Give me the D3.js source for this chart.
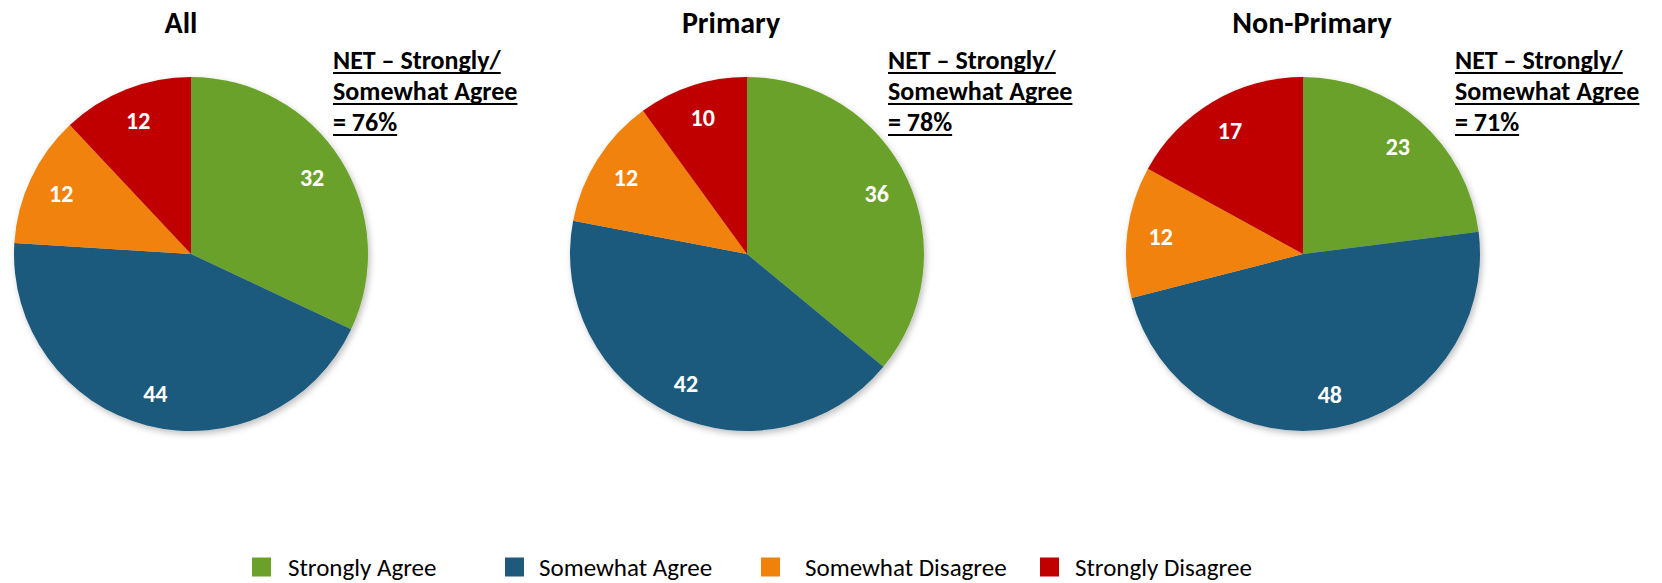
<!DOCTYPE html>
<html>
<head>
<meta charset="utf-8">
<script src="https://cdn.jsdelivr.net/npm/d3@7"></script>
<style>
  body { margin: 0; background: #fff; }
  svg { display: block; font-family: Carlito, Calibri, Lato, sans-serif; }
</style>
</head>
<body>
<div id="chart"></div>
<script>
// DATA
var categories = ["Strongly Agree", "Somewhat Agree", "Somewhat Disagree", "Strongly Disagree"];
var groups = ["All", "Primary", "Non-Primary"];
var allValues = [32, 44, 12, 12];
var primaryValues = [36, 42, 12, 10];
var nonPrimaryValues = [23, 48, 12, 17];
var netValues = ["76%", "78%", "71%"];
var colors = ["#6BA12A", "#1F5A7D", "#F0820A", "#C00000"];

var width = 1662, height = 583;
var radius = 177;
var pieCx = [191, 747, 1303];
var pieCy = 254;
var titleX = [181, 731, 1312];
var netX = [333, 888, 1455];

var svg = d3.select('#chart').append('svg')
  .attr('width', width)
  .attr('height', height);

var defs = svg.append('defs');
defs.append('filter').attr('id', 'shadow')
  .attr('x', '-10%').attr('y', '-10%').attr('width', '125%').attr('height', '125%')
  .append('feDropShadow')
  .attr('dx', 2).attr('dy', 3).attr('stdDeviation', 3)
  .attr('flood-color', '#000').attr('flood-opacity', 0.25);

var pie = d3.pie().sort(null).value((d) => d);
var arc = d3.arc().innerRadius(0).outerRadius(radius);
var labelArc = d3.arc().innerRadius(radius * 0.81).outerRadius(radius * 0.81);

var series = [allValues, primaryValues, nonPrimaryValues];

series.forEach(function (vals, i) {
  var g = svg.append('g').attr('transform', 'translate(' + pieCx[i] + ',' + pieCy + ')');
  var arcs = pie(vals);

  g.append('g').attr('filter', 'url(#shadow)')
    .selectAll('path')
    .data(arcs)
    .enter()
    .append('path')
    .attr('d', arc)
    .attr('fill', (d, j) => colors[j]);

  g.selectAll('text.val')
    .data(arcs)
    .enter()
    .append('text')
    .attr('class', 'val')
    .attr('transform', (d) => 'translate(' + labelArc.centroid(d) + ')')
    .attr('text-anchor', 'middle')
    .attr('dy', '0.36em')
    .attr('fill', '#fff')
    .attr('font-weight', 'bold')
    .attr('font-size', 24)
    .text((d) => d.data);

  // title
  svg.append('text')
    .attr('x', titleX[i])
    .attr('y', 33)
    .attr('text-anchor', 'middle')
    .attr('font-weight', 'bold')
    .attr('font-size', 30)
    .attr('fill', '#000')
    .text(groups[i]);

  // NET annotation
  var lines = ['NET \u2013 Strongly/', 'Somewhat Agree', '= ' + netValues[i]];
  lines.forEach(function (t, k) {
    var y = 69 + k * 31;
    var txt = svg.append('text')
      .attr('x', netX[i])
      .attr('y', y)
      .attr('font-weight', 'bold')
      .attr('font-size', 26)
      .attr('fill', '#000')
      .text(t);
    var w = txt.node().getComputedTextLength();
    svg.append('line')
      .attr('x1', netX[i]).attr('x2', netX[i] + w)
      .attr('y1', y + 4).attr('y2', y + 4)
      .attr('stroke', '#000').attr('stroke-width', 1.8);
  });
});

// legend
var legendX = [252, 505, 761, 1040];
var legendTextX = [288, 539, 805, 1075];
var legend = svg.append('g').attr('transform', 'translate(0,567)');
var items = legend.selectAll('g')
  .data(categories)
  .enter()
  .append('g');
items.append('rect')
  .attr('x', (d, i) => legendX[i]).attr('y', -9.5)
  .attr('width', 19).attr('height', 19)
  .attr('fill', (d, i) => colors[i]);
items.append('text')
  .attr('x', (d, i) => legendTextX[i])
  .attr('y', 0)
  .attr('dy', '0.34em')
  .attr('font-size', 25)
  .attr('fill', '#000')
  .text((d) => d);
</script>
</body>
</html>
